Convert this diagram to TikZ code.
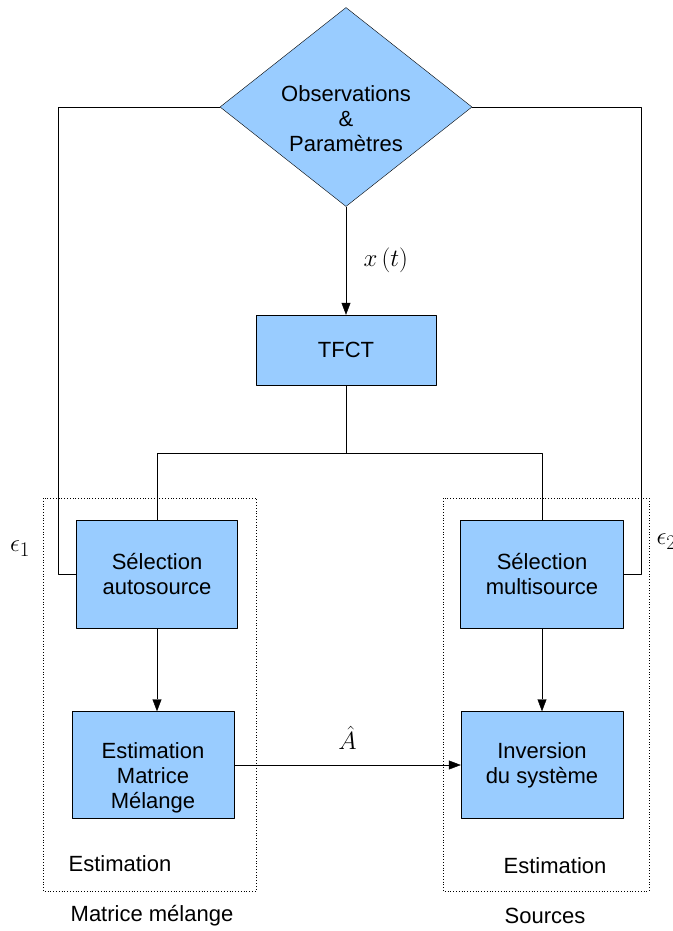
\documentclass[tikz,border=0pt]{standalone}
\usepackage{fontspec}
\setmainfont{Liberation Sans}
\usetikzlibrary{shapes.geometric,arrows.meta}
\definecolor{boxblue}{HTML}{99CCFF}
\begin{document}
\begin{tikzpicture}[x=1pt, y=-1pt, line join=round, >={Triangle[length=12pt,width=9pt]},
	every node/.style={font=\fontsize{22}{25}\selectfont},
	blockbox/.style={draw, fill=boxblue, align=center, inner sep=0pt},
	mathlabel/.style={font=\fontsize{30}{32}\selectfont}]
			\useasboundingbox (0,0) rectangle (672,931);
			% zones en pointilles
			\draw[dotted, thick] (43,498) rectangle (256,891);
			\draw[dotted, thick] (443,498) rectangle (649,891);
			% blocs
			\node[blockbox, shape=diamond, minimum width=252pt, minimum height=199pt] (obs) at (346,107)
				{\raisebox{-19.5pt}[0pt][0pt]{\begin{tabular}{@{}c@{}}Observations\\\&\\Paramètres\end{tabular}}};
			\node[blockbox, minimum width=180pt, minimum height=70pt] (tfct) at (346,350) {TFCT};
			\node[blockbox, minimum width=161pt, minimum height=108pt] (auto) at (157,574) {Sélection\\autosource};
			\node[blockbox, minimum width=163pt, minimum height=108pt] (multi) at (542,574) {Sélection\\multisource};
			\node[blockbox, minimum width=162pt, minimum height=107pt] (estim) at (153,765)
				{\raisebox{-18.5pt}[0pt][0pt]{\begin{tabular}{@{}c@{}}Estimation\\Matrice\\Mélange\end{tabular}}};
			\node[blockbox, minimum width=162pt, minimum height=107pt] (inv) at (542,765) {Inversion\\du système};
			% liaisons
			\draw[->] (obs.south) -- (tfct.north) node[midway, right=14pt, mathlabel] {$x\,(t)$};
			\draw (tfct.south) -- ++(0,68) coordinate (split);
			\draw (split) -| (auto.north);
			\draw (split) -| (multi.north);
			\draw[->] (auto.south) -- (auto.south |- estim.north);
			\draw[->] (multi.south) -- (multi.south |- inv.north);
			\draw[->] (estim.east) -- (inv.west) node[midway, above=12pt, mathlabel] {$\hat{A}$};
			% retours
			\coordinate (fbl) at (58,107);
			\coordinate (fbr) at (641,107);
			\draw (obs.west) -- (fbl) |- (auto.west);
			\draw (obs.east) -- (fbr) |- (multi.east);
			\node[mathlabel] (eps1) at (20,549) {$\epsilon_1$};
			\node[mathlabel, anchor=west] (eps2) at (653,542) {$\epsilon_2$};
			% legendes
			\node (zone1) at (120,864) {Estimation};
			\node (zone2) at (555,866) {Estimation};
			\node (leg1) at (152,916) {Matrice mélange};
			\node (leg2) at (545,916) {Sources};
		\end{tikzpicture}
\end{document}
